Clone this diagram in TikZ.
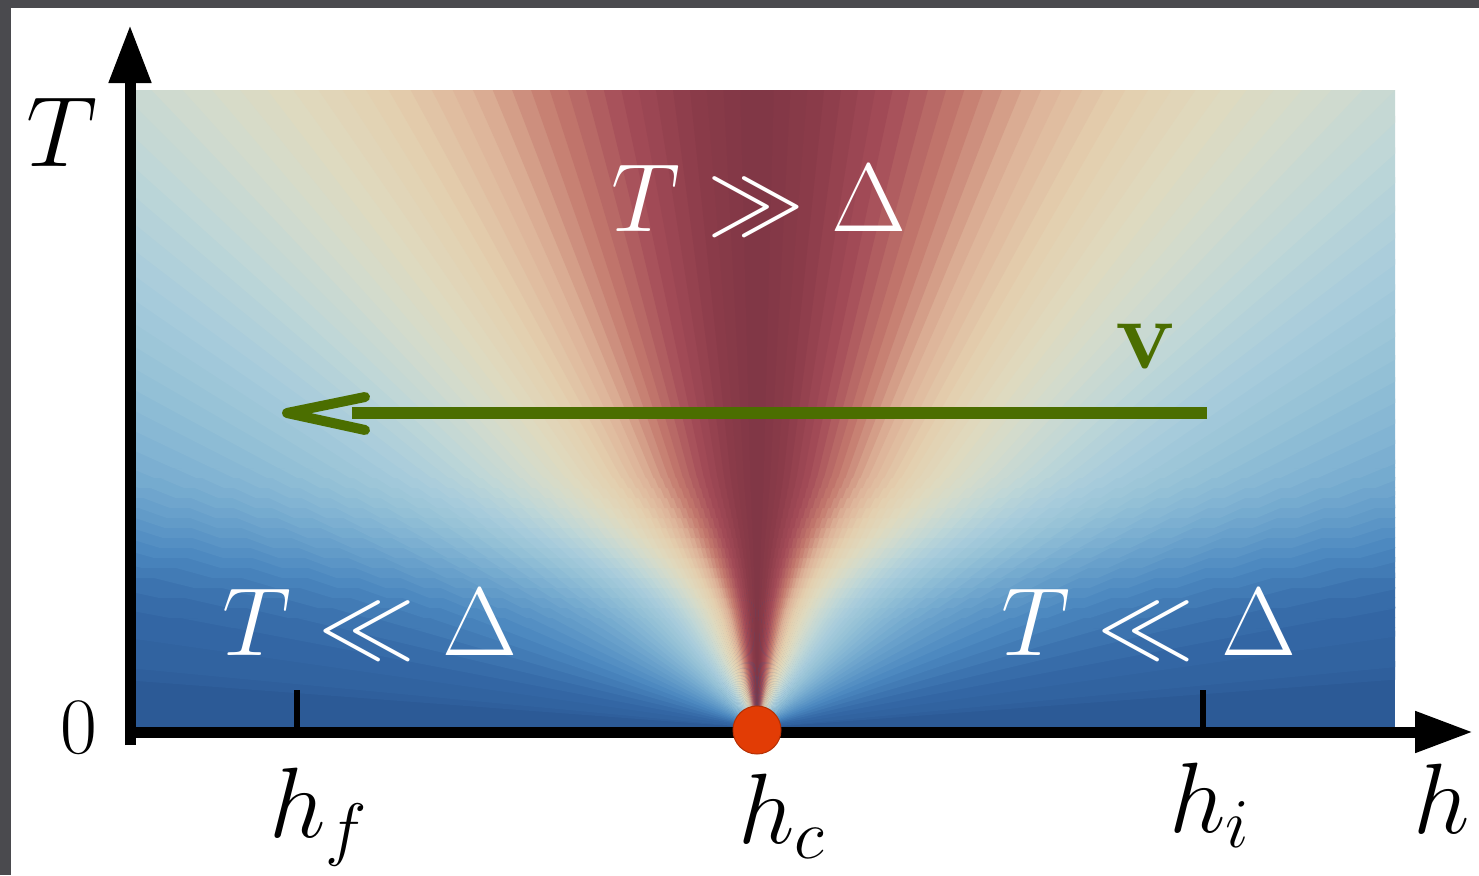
\RequirePackage{fix-cm}
\documentclass[tikz,border=0pt]{standalone}
\usetikzlibrary{arrows.meta}
\definecolor{framegrey}{HTML}{4A4A4E}
\definecolor{mc0}{HTML}{2C5A96}
\definecolor{mc1}{HTML}{3468A6}
\definecolor{mc2}{HTML}{4A86BE}
\definecolor{mc3}{HTML}{659ECA}
\definecolor{mc4}{HTML}{7FB2D2}
\definecolor{mc5}{HTML}{96C2D7}
\definecolor{mc6}{HTML}{A8CCDB}
\definecolor{mc7}{HTML}{BDD6D8}
\definecolor{mc8}{HTML}{D1DBCE}
\definecolor{mc9}{HTML}{E0DABE}
\definecolor{mc10}{HTML}{E4CEAE}
\definecolor{mc11}{HTML}{DDB398}
\definecolor{mc12}{HTML}{C47A6E}
\definecolor{mc13}{HTML}{A44C58}
\definecolor{mc14}{HTML}{8C3C4A}
\definecolor{mc15}{HTML}{7F3646}
\definecolor{vgreen}{HTML}{4B6E00}
\definecolor{critred}{HTML}{E23C05}
\tikzset{
  axisline/.style={line width=11pt},
  tickline/.style={line width=6pt},
  lbl/.style={inner sep=0pt, font=\fontsize{100}{120}\selectfont},
  wlbl/.style={inner sep=0pt, text=white, font=\fontsize{97}{116}\selectfont},
}
\begin{document}
\begin{tikzpicture}[x=1pt,y=-1pt]
\useasboundingbox (0,0) rectangle (1479,875);
\fill[framegrey] (0,0) rectangle (1479,875);
\fill[white] (11,8) rectangle (1479,875);
\coordinate (V) at (757,728);
% colour map: colour = F(phi), tan(phi) = m(dy) * dy/dx
\begin{scope}
\clip (135,90) rectangle (1395,728);
\fill[mc0] (135,90) rectangle (1395,728);
\begin{scope}[shift={(V)},yscale=-1]
\foreach \ya/\yb/\mm in {0/100/0.55, 100/110/0.5513, 110/120/0.5611, 120/130/0.5795,
    130/140/0.6052, 140/150/0.6368, 150/160/0.6730, 160/170/0.7125, 170/180/0.7539,
    180/190/0.7961, 190/200/0.8376, 200/210/0.8771, 210/220/0.9132, 220/230/0.9448,
    230/240/0.9704, 240/250/0.9889, 250/260/0.9987, 260/650/1}{
  \foreach \b in {0,...,59}{
    \pgfmathsetmacro\pa{1.5*\b}
    \pgfmathsetmacro\pb{1.5*\b+1.8}
    \pgfmathsetmacro\ca{min(cos(\pa)/max(sin(\pa),0.02),2400/\yb)}
    \pgfmathsetmacro\cb{min(cos(\pb)/max(sin(\pb),0.02),2400/\yb)}
    \pgfmathsetmacro\ytop{\yb+0.8}
    \pgfmathsetmacro\xaa{\ya*\mm*\ca}
    \pgfmathsetmacro\xba{\ytop*\mm*\ca}
    \pgfmathsetmacro\xab{\ya*\mm*\cb}
    \pgfmathsetmacro\xbb{\ytop*\mm*\cb}
    \pgfmathtruncatemacro\ci{floor((1.5*\b+0.75)/6)}
    \pgfmathtruncatemacro\cj{\ci+1}
    \pgfmathsetmacro\ct{((1.5*\b+0.75)-6*\ci)/6*100}
    \fill[mc\cj!\ct!mc\ci] (\xaa,\ya) -- (\xba,\ytop) -- (\xbb,\ytop) -- (\xab,\ya) -- cycle;
    \fill[mc\cj!\ct!mc\ci] (-\xaa,\ya) -- (-\xba,\ytop) -- (-\xbb,\ytop) -- (-\xab,\ya) -- cycle;
  }
}
\end{scope}
\end{scope}
% axes
\coordinate (vbot) at (130,745);
\coordinate (vtop) at (130,25);
\coordinate (hleft) at (125,732);
\coordinate (hright) at (1473,732);
\draw[axisline,-{Triangle[length=58pt,width=40pt]}] (vbot) -- (vtop);
\draw[axisline,-{Triangle[length=58pt,width=39pt]}] (hleft) -- (hright);
% ticks
\coordinate (tfa) at (297,690);
\coordinate (tfb) at (297,732);
\coordinate (tia) at (1203,690);
\coordinate (tib) at (1203,732);
\draw[tickline] (tfa) -- (tfb);
\draw[tickline] (tia) -- (tib);
% axis labels
\node[lbl,anchor=base] (Tlab) at (62,166) {$T$};
\node[lbl,anchor=base,font=\fontsize{80}{96}\selectfont] (zero) at (79,753) {$0$};
\node[lbl,anchor=base west] (hf) at (269,837) {$h_f$};
\node[lbl,anchor=base west] (hc) at (738,843) {$h_c$};
\node[lbl,anchor=base west] (hi) at (1169,832) {$h_i$};
\node[lbl,anchor=base west] (hh) at (1413,833) {$h$};
% region labels
\node[wlbl,anchor=base] (top) at (759,231) {$T \gg \Delta$};
\node[wlbl,anchor=base] (left) at (370,655) {$T \ll \Delta$};
\node[wlbl,anchor=base] (right) at (1149,655) {$T \ll \Delta$};
% quench arrow
\coordinate (qs) at (1207,413);
\coordinate (qe) at (352,413);
\coordinate (qtip) at (287,413);
\coordinate (qa) at (365,397);
\coordinate (qb) at (365,430);
\draw[vgreen,line width=12pt] (qs) -- (qe);
\draw[vgreen,line width=10pt,line cap=round,line join=round] (qa) -- (qtip) -- (qb);
\node[lbl,anchor=base,text=vgreen] (vlab) at (1146,368) {$\mathbf{v}$};
% critical point
\node[circle,fill=critred,draw=critred!80!black,line width=1pt,minimum size=48pt,inner sep=0pt] (crit) at (757,730) {};
\end{tikzpicture}
\end{document}
